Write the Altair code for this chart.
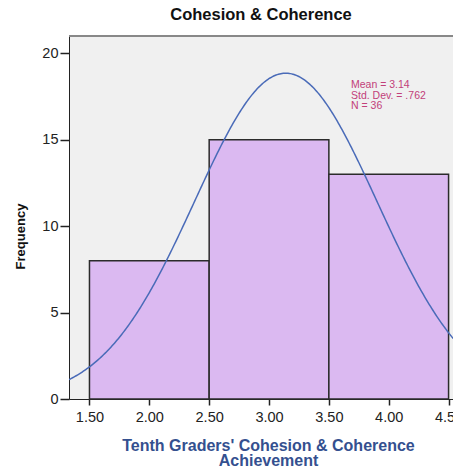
import altair as alt
import pandas as pd

# Histogram bins and counts
bin_start = [1.5, 2.5, 3.5]
bin_end = [2.5, 3.5, 4.5]
counts = [8, 15, 13]

# Summary statistics shown in the chart
mean_val = 3.14
std_val = 0.762
n_val = 36
bin_width = 1.0

x_ticks = [1.5, 2.0, 2.5, 3.0, 3.5, 4.0, 4.5]
y_ticks = [0, 5, 10, 15, 20]
x_domain = [1.329, 4.537]
y_domain = [0, 21]

bars_df = pd.DataFrame({"start": bin_start, "end": bin_end, "count": counts})

W, H = 384, 363

xscale = alt.Scale(domain=x_domain, nice=False, zero=False)
yscale = alt.Scale(domain=y_domain, nice=False)

xaxis = alt.Axis(
    values=x_ticks, format=".2f", labelFontSize=14.5, labelColor="#222",
    labelFont="Liberation Sans", tickSize=6, tickColor="#222", domainColor="#222",
    tickWidth=1.5, labelPadding=5, grid=False, labelFlush=False,
    title=["Tenth Graders' Cohesion & Coherence", "Achievement"],
    titleFont="Liberation Sans", titleFontSize=16, titleFontWeight="bold",
    titleColor="#34508f", titleX=199, titleY=38, titleBaseline="top",
    titleAlign="center", titleLineHeight=15.5,
)
yaxis = alt.Axis(
    values=y_ticks, labelFontSize=14.5, labelColor="#222", labelFont="Liberation Sans",
    tickSize=9, tickColor="#222", domainColor="#222", tickWidth=1.5,
    labelPadding=2, grid=False,
    title="Frequency", titleFont="Liberation Sans", titleFontSize=13,
    titleFontWeight="bold", titleColor="#111", titleX=-49, titleY=200,
    titleAngle=270, titleAlign="center", titleBaseline="middle",
)

bars = alt.Chart(bars_df).mark_rect(
    fill="#dbb9f1", stroke="#2b2b2b", strokeWidth=1.5
).encode(
    x=alt.X("start:Q", scale=xscale, axis=xaxis),
    x2="end:Q",
    y=alt.Y("count:Q", scale=yscale, axis=yaxis),
    y2=alt.datum(0),
)

curve = alt.Chart(alt.sequence(x_domain[0], x_domain[1] + 0.005, 0.01, as_="x")).transform_calculate(
    y=f"{n_val} * {bin_width} / ({std_val} * sqrt(2 * PI)) * exp(-0.5 * pow((datum.x - {mean_val}) / {std_val}, 2))"
).mark_line(color="#4a6bb8", strokeWidth=1.5, clip=True).encode(
    x=alt.X("x:Q", scale=xscale),
    y=alt.Y("y:Q", scale=yscale),
)

top_line = alt.Chart(pd.DataFrame({"a": [0]})).mark_rule(
    color="#888", strokeWidth=2
).encode(y=alt.value(0))

stats_df = pd.DataFrame({
    "label": [f"Mean = {mean_val:.2f}", f"Std. Dev. = .{int(round(std_val*1000))}", f"N = {n_val}"],
    "row": [0, 1, 2],
})
stats = alt.Chart(stats_df).mark_text(
    align="left", baseline="top", fontSize=10.5, font="Liberation Sans",
    color="#c2407a",
).encode(
    x=alt.value(282),
    y=alt.Y("row:O", axis=None, scale=alt.Scale(type="point", range=[44, 65], padding=0)),
    text="label:N",
)

chart = alt.layer(bars, curve, top_line, stats).resolve_scale(y="independent").properties(
    width=W, height=H,
    title=alt.TitleParams("Cohesion & Coherence", fontSize=16.5, fontWeight="bold",
                          font="Liberation Sans", color="#111", anchor="middle", offset=12),
    autosize=alt.AutoSizeParams(type="none"),
    padding={"left": 61, "top": 28, "right": 0, "bottom": 70},
).configure_view(fill="#f0f0f0", stroke=None)

chart.save("out.html", embed_options={"renderer": "svg", "actions": False})
